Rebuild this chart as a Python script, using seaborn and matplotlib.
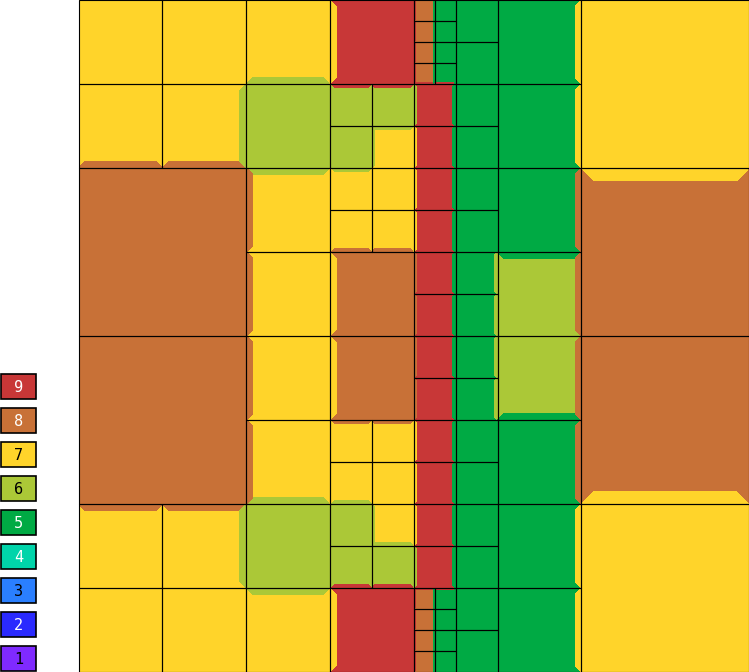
import numpy as np
import matplotlib
matplotlib.use("Agg")
import matplotlib.pyplot as plt
from matplotlib.colors import ListedColormap
from matplotlib.patches import Rectangle, Polygon
import seaborn as sns

# value levels shown in the key (bottom to top) and their colours
levels = [1, 2, 3, 4, 5, 6, 7, 8, 9]
level_colors = ['#7f2aff', '#2a2aff', '#2a7fff', '#00d4aa', '#00aa44',
                '#abc837', '#ffd42a', '#c87137', '#c83737']
label_colors = ['black', 'white', 'black', 'white', 'white',
                'black', 'black', 'white', 'white']

# quadtree cells as (col, row, size, value), grid is 16 x 16 units
band_top = [
    (0, 0, 2, 7), (2, 0, 2, 7), (4, 0, 2, 7), (6, 0, 2, 9),
    (8, 0, .5, 8), (8, .5, .5, 8), (8, 1, .5, 8), (8, 1.5, .5, 8),
    (8.5, 0, .5, 5), (8.5, .5, .5, 5), (8.5, 1, .5, 5), (8.5, 1.5, .5, 5),
    (9, 0, 1, 5), (9, 1, 1, 5), (10, 0, 2, 5), (12, 0, 4, 7),
    (0, 2, 2, 7), (2, 2, 2, 7), (4, 2, 2, 6),
    (6, 2, 1, 6), (7, 2, 1, 6), (6, 3, 1, 6), (7, 3, 1, 7),
    (8, 2, 1, 9), (8, 3, 1, 9), (9, 2, 1, 5), (9, 3, 1, 5), (10, 2, 2, 5),
]
band_upper = [
    (0, 4, 4, 8), (4, 4, 2, 7),
    (6, 4, 1, 7), (7, 4, 1, 7), (6, 5, 1, 7), (7, 5, 1, 7),
    (8, 4, 1, 9), (8, 5, 1, 9), (9, 4, 1, 5), (9, 5, 1, 5),
    (10, 4, 2, 5), (12, 4, 4, 8),
    (4, 6, 2, 7), (6, 6, 2, 8),
    (8, 6, 1, 9), (8, 7, 1, 9), (9, 6, 1, 5), (9, 7, 1, 5), (10, 6, 2, 6),
]
band_lower = [
    (0, 8, 4, 8), (4, 8, 2, 7), (6, 8, 2, 8),
    (8, 8, 1, 9), (8, 9, 1, 9), (9, 8, 1, 5), (9, 9, 1, 5),
    (10, 8, 2, 6), (12, 8, 4, 8),
    (4, 10, 2, 7),
    (6, 10, 1, 7), (7, 10, 1, 7), (6, 11, 1, 7), (7, 11, 1, 7),
    (8, 10, 1, 9), (8, 11, 1, 9), (9, 10, 1, 5), (9, 11, 1, 5), (10, 10, 2, 5),
]
band_bottom = [
    (0, 12, 2, 7), (2, 12, 2, 7), (4, 12, 2, 6),
    (6, 12, 1, 6), (7, 12, 1, 7), (6, 13, 1, 6), (7, 13, 1, 6),
    (8, 12, 1, 9), (8, 13, 1, 9), (9, 12, 1, 5), (9, 13, 1, 5),
    (10, 12, 2, 5), (12, 12, 4, 7),
    (0, 14, 2, 7), (2, 14, 2, 7), (4, 14, 2, 7), (6, 14, 2, 9),
    (8, 14, .5, 8), (8, 14.5, .5, 8), (8, 15, .5, 8), (8, 15.5, .5, 8),
    (8.5, 14, .5, 5), (8.5, 14.5, .5, 5), (8.5, 15, .5, 5), (8.5, 15.5, .5, 5),
    (9, 14, 1, 5), (9, 15, 1, 5), (10, 14, 2, 5),
]


def main():
    sns.set_style("white")
    cells = band_top + band_upper + band_lower + band_bottom

    # rasterise onto a half-unit grid for the heatmap
    n = 32
    grid = np.zeros((n, n))
    owner = np.full((n, n), -1)
    for i, (u, v, s, val) in enumerate(cells):
        r0, c0, k = int(2 * v), int(2 * u), int(2 * s)
        grid[r0:r0 + k, c0:c0 + k] = val
        owner[r0:r0 + k, c0:c0 + k] = i

    fig = plt.figure(figsize=(7.49, 6.72), dpi=100)
    ax = fig.add_axes([78.5 / 749, 0, 670.5 / 749, 1])
    sns.heatmap(grid, ax=ax, cmap=ListedColormap(level_colors), vmin=0.5, vmax=9.5,
                cbar=False, xticklabels=False, yticklabels=False)

    # colour bleed: the bigger (or, same size, lower valued) neighbour
    # spills a mitred strip into the cell
    for i, (u, v, s, val) in enumerate(cells):
        x0, y0, k = 2 * u, 2 * v, 2 * s
        w = 0.075 * k
        mid_c = int(x0 + k // 2) if k >= 2 else int(x0)
        mid_r = int(y0 + k // 2) if k >= 2 else int(y0)
        sides = [
            ((int(y0) - 1, mid_c), [(x0, y0), (x0 + k, y0), (x0 + k - w, y0 + w), (x0 + w, y0 + w)]),
            ((int(y0 + k), mid_c), [(x0, y0 + k), (x0 + k, y0 + k), (x0 + k - w, y0 + k - w), (x0 + w, y0 + k - w)]),
            ((mid_r, int(x0) - 1), [(x0, y0), (x0, y0 + k), (x0 + w, y0 + k - w), (x0 + w, y0 + w)]),
            ((mid_r, int(x0 + k)), [(x0 + k, y0), (x0 + k, y0 + k), (x0 + k - w, y0 + k - w), (x0 + k - w, y0 + w)]),
        ]
        for (r, c), poly in sides:
            if r < 0 or c < 0 or r >= n or c >= n:
                continue
            j = owner[r, c]
            nu, nv, ns, nval = cells[j]
            if ns > s or (ns == s and nval < val):
                ax.add_patch(Polygon(poly, closed=True, fc=level_colors[nval - 1],
                                     ec='none', antialiased=False))

    for (u, v, s, val) in cells:
        ax.add_patch(Rectangle((2 * u, 2 * v), 2 * s, 2 * s, fill=False,
                               ec='black', lw=0.8, clip_on=False))
    ax.set_xlim(0, n)
    ax.set_ylim(n, 0)
    ax.axis('off')

    # key on the left
    lax = fig.add_axes([0, 0, 78.5 / 749, 1])
    lax.set_xlim(0, 78.5)
    lax.set_ylim(672, 0)
    lax.axis('off')
    for lvl, col, tcol in zip(levels, level_colors, label_colors):
        top = 374 + (9 - lvl) * 34
        lax.add_patch(Rectangle((0.7, top), 35.5, 25, fc=col, ec='black', lw=1.2))
        lax.text(18.5, top + 13, str(lvl), color=tcol, ha='center', va='center',
                 fontsize=11, family='DejaVu Sans Mono')

    fig.savefig('out.png', dpi=100)


if __name__ == "__main__":
    main()
